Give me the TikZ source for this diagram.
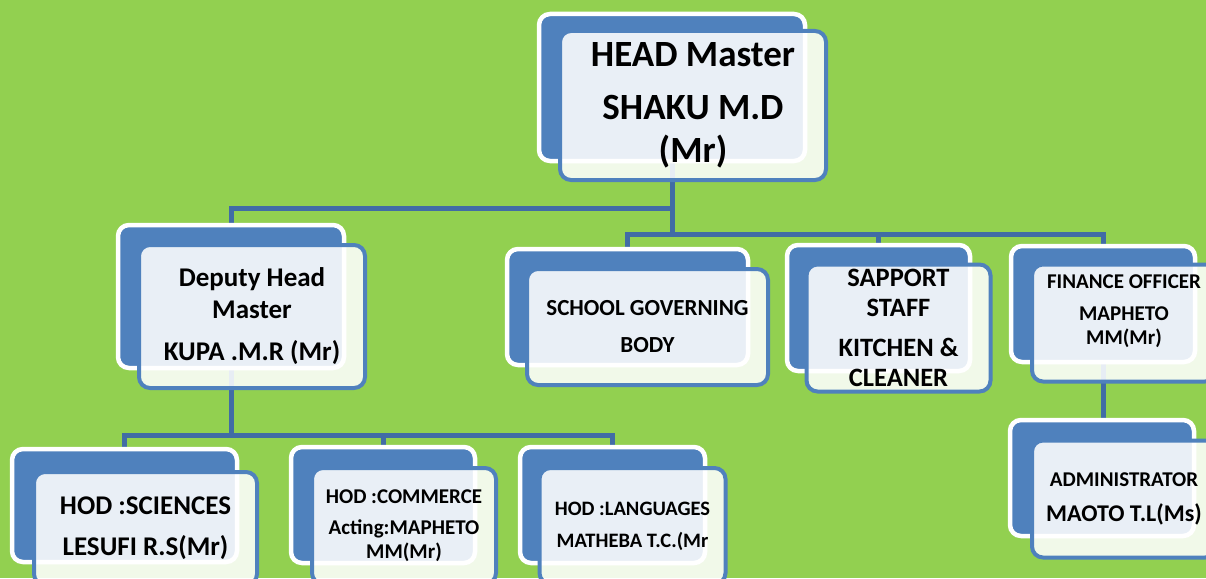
\documentclass[tikz,border=0pt]{standalone}
\usepackage{fontspec}
\setmainfont{Carlito}

\definecolor{leafgreen}{HTML}{92D050}
\definecolor{boxblue}{HTML}{4F81BD}
\definecolor{linkblue}{HTML}{416CA5}

\pgfdeclarelayer{background}
\pgfsetlayers{background,main}

\tikzset{
  back/.style={draw=white, line width=4.5pt, fill=boxblue, rounded corners=11pt, inner sep=0pt, outer sep=0pt},
  front/.style={draw=boxblue, line width=4pt, fill=white, fill opacity=0.88, text opacity=1,
    rounded corners=11pt, inner sep=0pt, outer sep=0pt, align=center},
  link/.style={draw=linkblue, line width=5pt},
}

\begin{document}
\begin{tikzpicture}[x=1pt,y=-1pt]
        \useasboundingbox (0,0) rectangle (1206,578);

        % Head master
        \node[back, minimum width=266pt, minimum height=147pt] (head) at (672,87.5) {};
        \node[front, minimum width=266pt, minimum height=149pt, font=\bfseries\fontsize{37}{43}\selectfont]
            (headf) at ([shift={(21,18)}]head.center) {\raisebox{-6pt}{HEAD Master}\\[16pt]SHAKU M.D\\(Mr)};

        % Second row
        \node[back, minimum width=226pt, minimum height=143pt] (deputy) at (231,296.5) {};
        \node[front, minimum width=226pt, minimum height=143pt, font=\bfseries\fontsize{27}{32}\selectfont]
            (deputyf) at ([shift={(21,20)}]deputy.center) {Deputy Head\\Master\\[10pt]KUPA .M.R (Mr)};

        \node[back, minimum width=241pt, minimum height=116pt] (sgb) at (627.5,307) {};
        \node[front, minimum width=241pt, minimum height=116pt, font=\bfseries\fontsize{23}{28}\selectfont]
            (sgbf) at ([shift={(20,20)}]sgb.center) {SCHOOL GOVERNING\\[9pt]BODY};

        \node[back, minimum width=183pt, minimum height=126pt] (support) at (878.5,308) {};
        \node[front, minimum width=184pt, minimum height=127pt, font=\bfseries\fontsize{26.5}{30}\selectfont]
            (supportf) at ([shift={(20,20)}]support.center) {SAPPORT\\STAFF\\[10pt]KITCHEN \&\\CLEANER};

        \node[back, minimum width=184pt, minimum height=116pt] (finance) at (1103,304) {};
        \node[front, minimum width=184pt, minimum height=117pt, font=\bfseries\fontsize{21}{24}\selectfont]
            (financef) at ([shift={(21,19)}]finance.center) {FINANCE OFFICER\\[8pt]MAPHETO\\MM(Mr)\\[2pt]\phantom{M}};

        \node[back, minimum width=184pt, minimum height=116pt] (admin) at (1102,478) {};
        \node[front, minimum width=184pt, minimum height=117pt, font=\bfseries\fontsize{21}{25}\selectfont]
            (adminf) at ([shift={(22,21)}]admin.center) {ADMINISTRATOR\\[10pt]{\fontsize{24}{25}\selectfont MAOTO T.L(Ms)}};

        % Heads of department
        \node[back, minimum width=225pt, minimum height=113pt] (sci) at (124.5,505.5) {};
        \node[front, minimum width=223pt, minimum height=113pt, font=\bfseries\fontsize{27}{32}\selectfont]
            (scif) at ([shift={(21,23)}]sci.center) {HOD :SCIENCES\\[9pt]LESUFI R.S(Mr)};

        \node[back, minimum width=184pt, minimum height=116pt] (com) at (383,505) {};
        \node[front, minimum width=184pt, minimum height=116pt, font=\bfseries\fontsize{21}{24}\selectfont]
            (comf) at ([shift={(21,21)}]com.center) {HOD :COMMERCE\\[7pt]Acting:MAPHETO\\MM(Mr)};

        \node[back, minimum width=185pt, minimum height=116pt] (lang) at (612.5,505) {};
        \node[front, minimum width=186pt, minimum height=116pt, font=\bfseries\fontsize{20.5}{24}\selectfont]
            (langf) at ([shift={(20,21)}]lang.center) {HOD :LANGUAGES\\[8pt]MATHEBA T.C.(Mr};

        % Background and connectors
        \begin{pgfonlayer}{background}
            \fill[leafgreen] (0,0) rectangle (1206,578);
            \coordinate (depbus) at (672,208);
            \coordinate (rowbus) at (672,234);
            \coordinate (hodbus) at (231,435);
            \draw[link] (head.south) -- (rowbus);
            \draw[link] (depbus) -| (deputy.north);
            \draw[link] (rowbus) -| (sgb.north);
            \draw[link] (rowbus) -| (support.north);
            \draw[link] (rowbus) -| (finance.north);
            \draw[link] (finance.south) -- (finance.south |- admin.north);
            \draw[link] (deputy.south) -- (hodbus);
            \draw[link] (hodbus) -| (sci.north);
            \draw[link] (hodbus) -| (com.north);
            \draw[link] (hodbus) -| (lang.north);
        \end{pgfonlayer}

    \end{tikzpicture}
\end{document}
